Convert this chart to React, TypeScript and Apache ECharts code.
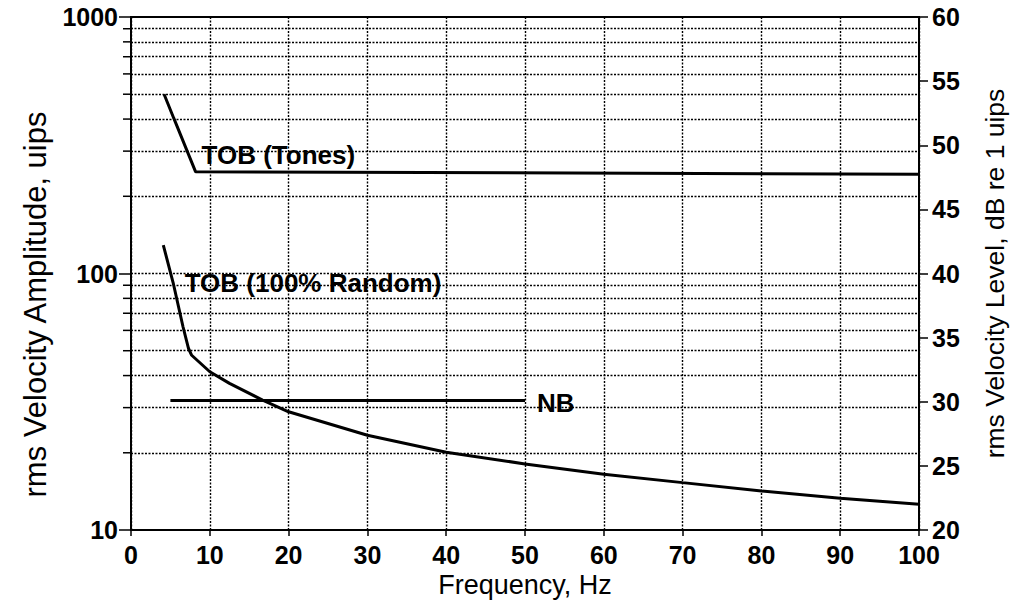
import React, { useEffect, useRef } from "react";
import * as echarts from "echarts";

// Amplitude levels (uips) on the logarithmic left axis
const minorLevels = [20, 30, 40, 50, 60, 70, 80, 90, 200, 300, 400, 500, 600, 700, 800, 900];
const gridLevels = [20, 30, 40, 50, 60, 70, 80, 90, 100, 200, 300, 400, 500, 600, 700, 800, 900];

// TOB (Tones) criterion
const tonesHz = [4.2, 5.4, 8.2, 100];
const tonesUips = [500, 405, 249, 244];

// TOB (100% Random) criterion
const randomHz = [4.1, 5.35, 6.6, 7.3, 7.7, 10, 12.5, 16.7, 20, 30, 40, 50, 60, 70, 80, 90, 100];
const randomUips = [129, 92, 62, 51, 48, 41.4, 37.3, 32.1, 28.9, 23.4, 20.1, 18.1, 16.5, 15.3, 14.2, 13.3, 12.6];

// Narrow-band criterion
const nbHz = [5, 50];
const nbUips = [32, 32];

const FONT = "'Liberation Sans', Arial, Helvetica, sans-serif";

const pairs = (xs: number[], ys: number[]) => xs.map((x, i) => [x, ys[i]]);

export default function App() {
  const ref = useRef<HTMLDivElement>(null);

  useEffect(() => {
    if (!ref.current) return;
    const chart = echarts.init(ref.current, null, { renderer: "svg" });

    const dotted = { color: "#000", width: 1.4, type: [2, 1.5] as number[] };
    const curve = { color: "#000", width: 3 };
    const tickLabel = { color: "#000", fontSize: 25, fontWeight: "bold" as const, fontFamily: FONT };
    const seriesLabel = { color: "#000", fontSize: 26, fontWeight: "bold" as const, fontFamily: FONT };

    chart.setOption({
      animation: false,
      backgroundColor: "#fff",
      grid: {
        left: 131,
        right: 93,
        top: 17,
        bottom: 75,
        show: true,
        borderColor: "#000",
        borderWidth: 2,
        backgroundColor: "transparent",
      },
      xAxis: {
        type: "value",
        min: 0,
        max: 100,
        interval: 10,
        name: "Frequency, Hz",
        nameLocation: "middle",
        nameGap: 41,
        nameTextStyle: { color: "#000", fontSize: 27, fontFamily: FONT },
        axisLine: { lineStyle: { color: "#000", width: 2 } },
        axisTick: { length: 6, lineStyle: { color: "#000", width: 1.5 } },
        axisLabel: { ...tickLabel, margin: 12 },
        splitLine: { show: true, lineStyle: dotted },
      },
      yAxis: [
        {
          type: "log",
          logBase: 10,
          min: 10,
          max: 1000,
          position: "left",
          name: "rms Velocity Amplitude, uips",
          nameLocation: "middle",
          nameGap: 80,
          nameTextStyle: { color: "#000", fontSize: 31, fontFamily: FONT, padding: [0, 62, 0, 0] },
          axisLine: { show: true, lineStyle: { color: "#000", width: 2 } },
          axisTick: { show: true, length: 12, lineStyle: { color: "#000", width: 1.5 } },
          axisLabel: { ...tickLabel, margin: 13, formatter: (v: number) => String(v) },
          splitLine: { show: false },
        },
        {
          type: "value",
          min: 20,
          max: 60,
          interval: 5,
          position: "right",
          name: "rms Velocity Level, dB re 1 uips",
          nameLocation: "middle",
          nameGap: 62,
          nameRotate: 90,
          nameTextStyle: { color: "#000", fontSize: 26.5, fontFamily: FONT },
          axisLine: { show: true, lineStyle: { color: "#000", width: 2 } },
          axisTick: { show: true, length: 9, lineStyle: { color: "#000", width: 1.5 } },
          axisLabel: { ...tickLabel, margin: 13 },
          splitLine: { show: false },
        },
      ],
      series: [
        {
          name: "Grid",
          type: "line",
          yAxisIndex: 0,
          data: [],
          silent: true,
          markLine: {
            silent: true,
            symbol: ["none", "none"],
            label: { show: false },
            lineStyle: dotted,
            data: gridLevels.map((v) => ({ yAxis: v })),
          },
        },
        {
          name: "TOB (Tones)",
          type: "line",
          yAxisIndex: 0,
          data: pairs(tonesHz, tonesUips),
          showSymbol: false,
          symbol: "none",
          lineStyle: curve,
          markPoint: {
            symbolSize: 0,
            label: { ...seriesLabel, show: true, formatter: "TOB (Tones)" },
            data: [{ coord: [18.7, 290] }],
          },
        },
        {
          name: "TOB (100% Random)",
          type: "line",
          yAxisIndex: 0,
          data: pairs(randomHz, randomUips),
          showSymbol: false,
          symbol: "none",
          lineStyle: curve,
          markPoint: {
            symbolSize: 0,
            label: { ...seriesLabel, show: true, formatter: "TOB (100% Random)" },
            data: [{ coord: [23.1, 92] }],
          },
        },
        {
          name: "NB",
          type: "line",
          yAxisIndex: 0,
          data: pairs(nbHz, nbUips),
          showSymbol: false,
          symbol: "none",
          lineStyle: curve,
          markPoint: {
            symbolSize: 0,
            label: { ...seriesLabel, show: true, formatter: "NB" },
            data: [{ coord: [53.9, 31.3] }],
          },
        },
      ],
    });

    // Minor tick marks of the log axis, placed with the axis' own scale
    const axisX = chart.convertToPixel({ xAxisIndex: 0 }, 0) as number;
    chart.setOption({
      graphic: minorLevels.map((v) => {
        const y = chart.convertToPixel({ yAxisIndex: 0 }, v) as number;
        return {
          type: "line",
          silent: true,
          shape: { x1: axisX - 8, y1: y, x2: axisX, y2: y },
          style: { stroke: "#000", lineWidth: 1.5 },
        };
      }),
    });

    return () => chart.dispose();
  }, []);

  return (
    <div
      ref={ref}
      style={{ position: "absolute", left: 0, top: 0, width: 1016, height: 605 }}
    />
  );
}
